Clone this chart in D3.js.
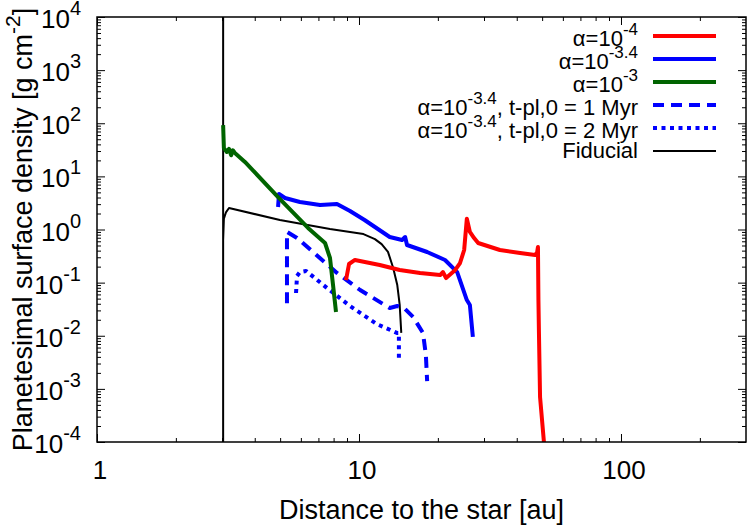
<!DOCTYPE html>
<html>
<head>
<meta charset="utf-8">
<script src="https://cdn.jsdelivr.net/npm/d3@7"></script>
<style>
  html, body { margin: 0; padding: 0; background: #fff; }
  svg text { font-family: "Liberation Sans", Arial, Helvetica, sans-serif; fill: #000; }
</style>
</head>
<body>
<svg id="chart" width="747" height="526"></svg>
<script>
'use strict';

// ── Data ────────────────────────────────────────────────────────────────────
const xMajorTicks = [1, 10, 100];
const xTickLabels = ['1', '10', '100'];
const xMinorTicks = [2, 3, 4, 5, 6, 7, 8, 9, 20, 30, 40, 50, 60, 70, 80, 90, 200];
const yExponents  = [-4, -3, -2, -1, 0, 1, 2, 3, 4];

// alpha = 1e-4 (red)
const alpha4X = [8.92, 9.16, 9.65, 12.0, 14.3, 17.1, 20.4, 20.9, 21.5, 23.3, 24.3, 25.2, 25.8,
                 26.5, 27.5, 28.5, 34.5, 41.2, 47.0, 47.8, 48.2, 48.4, 48.6, 49.1, 50.8, 51.3];
const alpha4Y = [0.112, 0.224, 0.267, 0.215, 0.173, 0.152, 0.139, 0.158, 0.122, 0.173, 0.234, 0.411, 1.6,
                 0.90, 0.69, 0.557, 0.411, 0.361, 0.331, 0.361, 0.469, 0.047, 0.0128, 7e-4, 1e-4, 4e-5];

// alpha = 1e-3.4 (blue)
const alpha34X = [4.91, 4.95, 5.22, 5.95, 7.10, 8.24, 9.24, 10.5, 13.1, 14.6, 15.0, 15.25,
                  18.2, 21.3, 23.7, 25.8, 26.5, 27.2];
const alpha34Y = [2.65, 4.66, 3.92, 3.30, 2.89, 3.02, 2.23, 1.51, 0.722, 0.634, 0.722, 0.511,
                  0.377, 0.267, 0.158, 0.047, 0.038, 0.0095];

// alpha = 1e-3 (green)
const alpha3X = [3.03, 3.05, 3.13, 3.19, 3.25, 3.30, 3.36, 3.67, 4.91, 6.39, 7.42, 7.75, 7.96, 8.17];
const alpha3Y = [92, 34, 28.8, 33, 25, 31, 27.5, 18.7, 4.09, 1.07, 0.557, 0.291, 0.090, 0.028];

// alpha = 1e-3.4, t_pl,0 = 1 Myr (blue dashed)
const t1X = [5.31, 5.31, 5.80, 8.24, 10.1, 13.1, 14.0, 14.85, 16.1, 17.55, 18.0, 18.2];
const t1Y = [0.041, 0.90, 0.692, 0.152, 0.0726, 0.0333, 0.0363, 0.0333, 0.0225, 0.0113, 0.00434, 0.0014];

// alpha = 1e-3.4, t_pl,0 = 2 Myr (blue dotted)
const t2X = [5.75, 5.80, 5.95, 6.28, 7.55, 9.24, 11.7, 13.96, 14.2, 14.2];
const t2Y = [0.0638, 0.133, 0.158, 0.166, 0.0792, 0.0363, 0.0166, 0.0113, 0.0113, 0.0038];

// Fiducial (black)
const fidX = [3.03, 3.03, 3.03, 3.05, 3.11, 3.19, 4.99, 7.75, 10.4, 11.5, 12.2, 12.9, 13.5, 14.0, 14.3, 14.5];
const fidY = [1e6, 1e-6, 0.63, 1.6, 2.13, 2.54, 1.51, 1.02, 0.82, 0.66, 0.53, 0.38, 0.19, 0.09, 0.038, 0.0113];

const series = [
  { label: [['α=10'], ['-4', 1]],                              xs: alpha4X,  ys: alpha4Y,  color: '#ff0000', width: 4, dash: null },
  { label: [['α=10'], ['-3.4', 1]],                            xs: alpha34X, ys: alpha34Y, color: '#0000ff', width: 4, dash: null },
  { label: [['α=10'], ['-3', 1]],                              xs: alpha3X,  ys: alpha3Y,  color: '#006400', width: 4, dash: null },
  { label: [['α=10'], ['-3.4', 1], [', t-pl,0 = 1 Myr']],      xs: t1X,      ys: t1Y,      color: '#0000ff', width: 4, dash: '11,7' },
  { label: [['α=10'], ['-3.4', 1], [', t-pl,0 = 2 Myr']],      xs: t2X,      ys: t2Y,      color: '#0000ff', width: 4, dash: '4,4.5' },
  { label: [['Fiducial']],                                     xs: fidX,     ys: fidY,     color: '#000000', width: 2, dash: null },
];

// ── Layout ──────────────────────────────────────────────────────────────────
const margin = { top: 17, right: 1, bottom: 84, left: 97 };
const fullW = 747, fullH = 526;
const W = fullW - margin.left - margin.right;
const H = fullH - margin.top - margin.bottom;

const x = d3.scaleLog().domain([1, 300]).range([0, W]);
const y = d3.scaleLog().domain([1e-4, 1e4]).range([H, 0]);

const svg = d3.select('#chart');
const g = svg.append('g').attr('transform', `translate(${margin.left},${margin.top})`);

svg.append('defs').append('clipPath').attr('id', 'plot-clip')
  .append('rect').attr('width', W).attr('height', H);

// superscript-aware text writer
function richText(sel, parts, size, supSize, raise) {
  let up = 0;
  parts.forEach(p => {
    const isSup = p[1] === 1;
    const shift = isSup ? -raise : 0;
    sel.append('tspan')
      .attr('dy', shift - up)
      .attr('font-size', (isSup ? supSize : size) + 'px')
      .text(p[0]);
    up = shift;
  });
}

// ── Ticks (inward, mirrored on all four sides) ─────────────────────────────
const yMinor = [];
yExponents.slice(0, -1).forEach(e => { for (let k = 2; k <= 9; k++) yMinor.push(k * Math.pow(10, e)); });
const yMajor = yExponents.map(e => Math.pow(10, e));

function ticks(axisFn, scale, values, size, transform) {
  g.append('g').attr('class', 'axis').attr('transform', transform)
    .call(axisFn(scale).tickValues(values).tickSize(-size).tickFormat(''))
    .call(ax => ax.select('.domain').remove())
    .selectAll('line').attr('stroke', '#000').attr('stroke-width', 1);
}
ticks(d3.axisBottom, x, xMajorTicks, 8, `translate(0,${H})`);
ticks(d3.axisBottom, x, xMinorTicks, 4, `translate(0,${H})`);
ticks(d3.axisTop,    x, xMajorTicks, 8, 'translate(0,0)');
ticks(d3.axisTop,    x, xMinorTicks, 4, 'translate(0,0)');
ticks(d3.axisLeft,   y, yMajor, 8, 'translate(0,0)');
ticks(d3.axisLeft,   y, yMinor, 4, 'translate(0,0)');
ticks(d3.axisRight,  y, yMajor, 8, `translate(${W},0)`);
ticks(d3.axisRight,  y, yMinor, 4, `translate(${W},0)`);

// ── Series ──────────────────────────────────────────────────────────────────
const line = d3.line().x(d => x(d[0])).y(d => y(d[1]));
const plot = g.append('g').attr('clip-path', 'url(#plot-clip)');

[5, 3, 4, 1, 2, 0].forEach(i => {
  const s = series[i];
  plot.append('path')
    .datum(s.xs.map((v, j) => [v, s.ys[j]]))
    .attr('fill', 'none')
    .attr('stroke', s.color)
    .attr('stroke-width', s.width)
    .attr('stroke-linejoin', 'round')
    .attr('stroke-dasharray', s.dash)
    .attr('d', line);
});

// frame
g.append('rect').attr('width', W).attr('height', H)
  .attr('fill', 'none').attr('stroke', '#000').attr('stroke-width', 1.5);

// ── Tick labels ─────────────────────────────────────────────────────────────
g.selectAll('.xlab').data(xMajorTicks).join('text')
  .attr('class', 'xlab')
  .attr('x', d => x(d) + 3)
  .attr('y', H + 37)
  .attr('text-anchor', 'middle')
  .attr('font-size', '26px')
  .text((d, i) => xTickLabels[i]);

yExponents.forEach(e => {
  const t = g.append('text')
    .attr('x', -16)
    .attr('y', y(Math.pow(10, e)) + 11)
    .attr('text-anchor', 'end');
  richText(t, [['10'], [String(e), 1]], 26, 20, 13);
});

// ── Axis titles ─────────────────────────────────────────────────────────────
svg.append('text')
  .attr('x', margin.left + W / 2)
  .attr('y', 519)
  .attr('text-anchor', 'middle')
  .attr('font-size', '27px')
  .text('Distance to the star [au]');

const yt = svg.append('text')
  .attr('transform', `translate(32,${margin.top + H / 2}) rotate(-90)`)
  .attr('text-anchor', 'middle')
  .attr('font-size', '27px');
richText(yt, [['Planetesimal surface density [g cm'], ['-2', 1], [']']], 27, 21, 12);

// ── Legend ──────────────────────────────────────────────────────────────────
const legend = svg.append('g');
series.forEach((s, i) => {
  const ly = 36 + i * 23;
  legend.append('line')
    .attr('x1', 653).attr('x2', 716)
    .attr('y1', ly).attr('y2', ly)
    .attr('stroke', s.color)
    .attr('stroke-width', s.width)
    .attr('stroke-dasharray', s.dash);
  const hasSup = s.label.some(p => p[1] === 1);
  const t = legend.append('text')
    .attr('x', 638)
    .attr('y', ly + (hasSup ? 10 : 7))
    .attr('text-anchor', 'end');
  richText(t, s.label, 22, 17, 11);
});
</script>
</body>
</html>
